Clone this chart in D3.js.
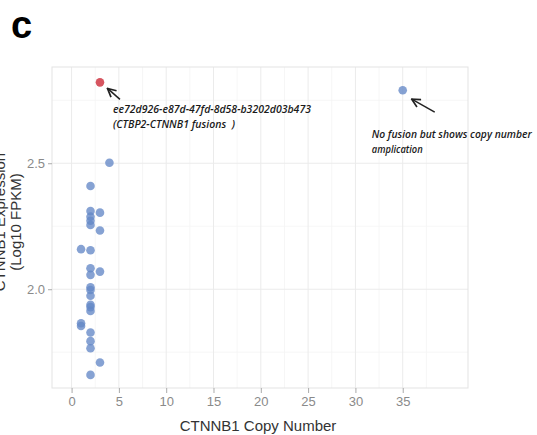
<!DOCTYPE html>
<html><head><meta charset="utf-8">
<script src="https://cdn.jsdelivr.net/npm/d3@7"></script>
<style>
html,body{margin:0;padding:0;background:#fff;}
svg{display:block;font-family:"Liberation Sans",Arial,sans-serif;}
</style></head>
<body><svg id="c" width="537" height="435"></svg>
<script>
// ---- data ----
const copyNumber = [4, 2, 2, 2, 2, 2, 3, 3, 1, 2, 2, 2, 3, 2, 2, 2, 2, 2, 2, 1, 1, 2, 2, 2, 3, 2, 35, 3];
const expression = [2.502, 2.41, 2.31, 2.288, 2.272, 2.255, 2.304, 2.233, 2.159, 2.155, 2.083, 2.057, 2.07, 2.008, 1.997, 1.974, 1.938, 1.929, 1.914, 1.865, 1.854, 1.828, 1.794, 1.766, 1.709, 1.66, 2.79, 2.821];
const fusion = [0,0,0,0,0,0,0,0,0,0,0,0,0,0,0,0,0,0,0,0,0,0,0,0,0,0,0,1];
const xTicks = [0, 5, 10, 15, 20, 25, 30, 35];
const yTicks = [2.0, 2.5];
const annotations = [
  {index: 27, lines: ["ee72d926-e87d-47fd-8d58-b3202d03b473", "(CTBP2-CTNNB1 fusions  )"]},
  {index: 26, lines: ["No fusion but shows copy number", "amplication"]}
];

const svg = d3.select("#c");
const L = 52, R = 468, T = 67, B = 388;
const x = d3.scaleLinear().domain([-2.07, 41.9]).range([L, R]);
const y = d3.scaleLinear().domain([1.608, 2.882]).range([B, T]);

// panel background grid
const g = svg.append("g");
const xMinor = d3.range(2.5, 40, 5);
const yMinor = [1.75, 2.25, 2.75];
g.selectAll(".xm").data(xMinor).join("line")
  .attr("x1", d => x(d)).attr("x2", d => x(d)).attr("y1", T).attr("y2", B)
  .attr("stroke", "#f4f4f4").attr("stroke-width", 0.8);
g.selectAll(".ym").data(yMinor).join("line")
  .attr("y1", d => y(d)).attr("y2", d => y(d)).attr("x1", L).attr("x2", R)
  .attr("stroke", "#f4f4f4").attr("stroke-width", 0.8);
g.selectAll(".xM").data(xTicks).join("line")
  .attr("x1", d => x(d)).attr("x2", d => x(d)).attr("y1", T).attr("y2", B)
  .attr("stroke", "#ebebeb").attr("stroke-width", 1);
g.selectAll(".yM").data(yTicks).join("line")
  .attr("y1", d => y(d)).attr("y2", d => y(d)).attr("x1", L).attr("x2", R)
  .attr("stroke", "#ebebeb").attr("stroke-width", 1);
g.append("rect").attr("x", L).attr("y", T).attr("width", R - L).attr("height", B - T)
  .attr("fill", "none").attr("stroke", "#e3e3e3").attr("stroke-width", 1);

// axes
const xAxis = svg.append("g").attr("transform", `translate(0,${B})`)
  .call(d3.axisBottom(x).tickValues(xTicks).tickFormat(d3.format("d")).tickSize(5).tickPadding(4));
const yAxis = svg.append("g").attr("transform", `translate(${L},0)`)
  .call(d3.axisLeft(y).tickValues(yTicks).tickFormat(d3.format(".1f")).tickSize(4).tickPadding(3));
[xAxis, yAxis].forEach(a => {
  a.select(".domain").remove();
  a.selectAll(".tick line").attr("stroke", "#aaa");
  a.selectAll(".tick text").attr("fill", "#8a8a8a").style("font-size", "13px")
    .style("font-family", "'Liberation Sans',Arial,sans-serif");
});

// points
const pts = copyNumber.map((c, i) => ({c, e: expression[i], f: fusion[i]}));
svg.append("g").selectAll("circle").data(pts).join("circle")
  .attr("cx", d => x(d.c)).attr("cy", d => y(d.e)).attr("r", 4.3)
  .attr("fill", d => d.f ? "#d2434f" : "#6488c6")
  .attr("fill-opacity", d => d.f ? 0.9 : 0.78);

// annotations
const defs = svg.append("defs");
defs.append("marker").attr("id", "ah").attr("viewBox", "0 0 10 10")
  .attr("refX", 9).attr("refY", 5).attr("markerWidth", 7).attr("markerHeight", 7)
  .attr("orient", "auto-start-reverse")
  .append("path").attr("d", "M1,1 L9,5 L1,9").attr("fill", "none").attr("stroke", "#222").attr("stroke-width", 1.6);

const ann = [
  {a: annotations[0], head: [7.5, 6], tail: [20, 17], text: [13, 31], widths: [198, 122]},
  {a: annotations[1], head: [9, 9], tail: [32, 22], text: [-31, 48], widths: [160, 51]}
];
ann.forEach(o => {
  const p = pts[o.a.index];
  const px = x(p.c), py = y(p.e);
  svg.append("line")
    .attr("x1", px + o.tail[0]).attr("y1", py + o.tail[1])
    .attr("x2", px + o.head[0]).attr("y2", py + o.head[1])
    .attr("stroke", "#222").attr("stroke-width", 1.5).attr("marker-end", "url(#ah)");
  o.a.lines.forEach((ln, k) => {
    svg.append("text")
      .attr("x", px + o.text[0]).attr("y", py + o.text[1] + k * 15)
      .attr("textLength", o.widths[k]).attr("lengthAdjust", "spacingAndGlyphs")
      .style("white-space", "pre")
      .style("font-family", "'Open Sans',sans-serif").style("font-style", "italic")
      .style("font-weight", "600").style("font-size", "10px").attr("fill", "#1a1a1a")
      .text(ln);
  });
});

// axis titles
svg.append("text").attr("x", (L + R) / 2 - 2).attr("y", 431).attr("text-anchor", "middle")
  .style("font-size", "15px").attr("fill", "#333").text("CTNNB1 Copy Number");
const yt = svg.append("text").attr("transform", "translate(21,222) rotate(-90)")
  .attr("text-anchor", "middle").style("font-size", "15px").attr("fill", "#333");
yt.append("tspan").attr("x", 0).attr("dy", "-1.07em").text("CTNNB1 Expression");
yt.append("tspan").attr("x", 0).attr("dy", "1.07em").text("(Log10 FPKM)");

// panel letter
svg.append("text").attr("x", 11).attr("y", 38).style("font-size", "38px")
  .style("font-weight", "bold").style("font-family", "'Liberation Sans',Arial,sans-serif")
  .attr("fill", "#000").text("c");
</script></body></html>
